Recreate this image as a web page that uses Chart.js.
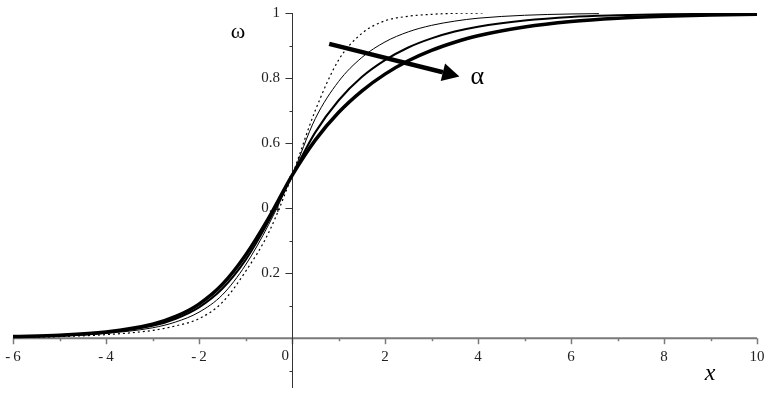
<!DOCTYPE html>
<html>
<head>
<meta charset="utf-8">
<script src="https://cdn.jsdelivr.net/npm/chart.js@4"></script>
<style>
  html, body { margin: 0; padding: 0; background: #fff; }
  #wrap { width: 770px; height: 395px; }
</style>
</head>
<body>
<div id="wrap"><canvas id="chart-omega" width="770" height="395"></canvas></div>
<script>
// curves, alpha growing from dotted to thick
const xDotted = [-6, -5, -4, -3, -2.5, -2, -1.5, -1, -0.5, 0, 0.5, 1, 1.5, 2, 2.5, 3, 3.5, 4.1];
const yDotted = [0.002, 0.005, 0.011, 0.024, 0.038, 0.06, 0.11, 0.205, 0.325, 0.5, 0.7, 0.855, 0.937, 0.976, 0.99, 0.996, 0.999, 1.0];

const xThin = [-6, -5, -4, -3, -2.5, -2, -1.5, -1, -0.5, 0, 0.5, 1, 1.5, 2, 2.5, 3, 3.5, 4, 5, 6, 6.6];
const yThin = [0.003, 0.007, 0.015, 0.032, 0.05, 0.08, 0.133, 0.225, 0.35, 0.5, 0.675, 0.789, 0.863, 0.911, 0.942, 0.962, 0.975, 0.984, 0.993, 0.997, 0.998];

const xMedium = [-6, -5, -4, -3, -2.5, -2, -1.5, -1, -0.5, 0, 0.5, 1, 1.5, 2, 2.5, 3, 3.5, 4, 5, 6, 7, 8, 9.6];
const yMedium = [0.004, 0.008, 0.017, 0.038, 0.06, 0.095, 0.152, 0.24, 0.36, 0.5, 0.633, 0.731, 0.803, 0.855, 0.894, 0.922, 0.943, 0.958, 0.977, 0.988, 0.993, 0.996, 0.998];

const xThick = [-6, -5, -4, -3, -2.5, -2, -1.5, -1, -0.5, 0, 0.5, 1, 1.5, 2, 2.5, 3, 3.5, 4, 5, 6, 7, 8, 9, 10];
const yThick = [0.005, 0.009, 0.019, 0.043, 0.067, 0.105, 0.165, 0.255, 0.37, 0.5, 0.609, 0.694, 0.76, 0.812, 0.853, 0.885, 0.91, 0.93, 0.957, 0.974, 0.984, 0.99, 0.994, 0.996];

// axis ticks
const xLabelValues = [-6, -4, -2, 0, 2, 4, 6, 8, 10];
const xTickLabels = ["-\u20096", "-\u20094", "-\u20092", "0", "2", "4", "6", "8", "10"];
const xMinorValues = [-5, -3, -1, 1, 3, 5, 7, 9];
const yLabelValues = [0.2, 0.4, 0.6, 0.8, 1];
const yTickLabels = ["0.2", "0.4", "0.6", "0.8", "1"];
const yMinorValues = [-0.1, 0.1, 0.3, 0.5, 0.7, 0.9];

// arrow for alpha, in data units
const arrowFrom = [0.8, 0.905];
const arrowTo = [3.6, 0.805];

const serif = '"Liberation Serif", "DejaVu Serif", serif';

function pts(xs, ys) {
  return xs.map((v, i) => ({ x: v, y: ys[i] }));
}

function line(ctx, x1, y1, x2, y2) {
  ctx.beginPath();
  ctx.moveTo(x1, y1);
  ctx.lineTo(x2, y2);
  ctx.stroke();
}

const axesPlugin = {
  id: "axes",
  beforeDatasetsDraw(chart) {
    const { ctx, scales: { x, y } } = chart;
    const x0 = x.getPixelForValue(0);
    const y0 = y.getPixelForValue(0);
    ctx.save();

    // x axis
    ctx.strokeStyle = "#7a7a7a";
    ctx.lineWidth = 2;
    line(ctx, x.getPixelForValue(-6), y0, x.getPixelForValue(10), y0);
    ctx.lineWidth = 1.5;
    xLabelValues.forEach(v => {
      const px = Math.round(x.getPixelForValue(v)) + 0.5;
      line(ctx, px, y0, px, y0 + 6);
    });
    xMinorValues.forEach(v => {
      const px = Math.round(x.getPixelForValue(v)) + 0.5;
      line(ctx, px, y0, px, y0 + 3);
    });

    // y axis
    ctx.strokeStyle = "#333";
    ctx.lineWidth = 1;
    const xa = Math.round(x0) + 0.5;
    line(ctx, xa, y.getPixelForValue(1), xa, y.bottom + 1);
    yLabelValues.forEach(v => {
      const py = Math.round(y.getPixelForValue(v)) + 0.5;
      line(ctx, xa, py, xa - 7, py);
    });
    yMinorValues.forEach(v => {
      const py = Math.round(y.getPixelForValue(v)) + 0.5;
      line(ctx, xa, py, xa - 3, py);
    });

    // tick labels
    ctx.fillStyle = "#222";
    ctx.font = "15px " + serif;
    ctx.textBaseline = "middle";
    xLabelValues.forEach((v, i) => {
      if (v === 0) {
        ctx.textAlign = "right";
        ctx.fillText(xTickLabels[i], x0 - 3, y0 + 18);
      } else {
        ctx.textAlign = "center";
        ctx.fillText(xTickLabels[i], x.getPixelForValue(v), y0 + 19);
      }
    });
    ctx.textAlign = "right";
    yLabelValues.forEach((v, i) => {
      ctx.fillText(yTickLabels[i], x0 - 12, y.getPixelForValue(v));
    });
    ctx.restore();
  },
  afterDatasetsDraw(chart) {
    const { ctx, scales: { x, y } } = chart;
    ctx.save();
    // arrow
    const ax1 = x.getPixelForValue(arrowFrom[0]), ay1 = y.getPixelForValue(arrowFrom[1]);
    const ax2 = x.getPixelForValue(arrowTo[0]), ay2 = y.getPixelForValue(arrowTo[1]);
    const ang = Math.atan2(ay2 - ay1, ax2 - ax1);
    const head = 17, half = 9;
    const bx = ax2 - head * Math.cos(ang), by = ay2 - head * Math.sin(ang);
    ctx.strokeStyle = "#000";
    ctx.fillStyle = "#000";
    ctx.lineWidth = 4.5;
    line(ctx, ax1, ay1, bx, by);
    ctx.beginPath();
    ctx.moveTo(ax2, ay2);
    ctx.lineTo(bx - half * Math.sin(ang), by + half * Math.cos(ang));
    ctx.lineTo(bx + half * Math.sin(ang), by - half * Math.cos(ang));
    ctx.closePath();
    ctx.fill();

    // symbols
    ctx.textAlign = "center";
    ctx.textBaseline = "middle";
    ctx.font = "26px " + serif;
    ctx.fillText("\u03b1", ax2 + 18, ay2 + 1);
    ctx.font = "22px " + serif;
    ctx.fillText("\u03c9", 238, 32);
    ctx.font = "italic 24px " + serif;
    ctx.fillText("x", 710, 374);
    ctx.restore();
  }
};

function curve(data, width, dash) {
  return {
    data: data,
    borderColor: "#000",
    borderWidth: width,
    borderDash: dash || [],
    pointRadius: 0,
    fill: false,
    cubicInterpolationMode: "monotone"
  };
}

let ctxOmega = document.getElementById("chart-omega");

ctxOmega && new Chart(ctxOmega.getContext("2d"), {
  type: "line",
  data: {
    datasets: [
      curve(pts(xDotted, yDotted), 1.2, [2, 3]),
      curve(pts(xThin, yThin), 1),
      curve(pts(xMedium, yMedium), 2),
      curve(pts(xThick, yThick), 3.5)
    ]
  },
  options: {
    responsive: false,
    animation: false,
    layout: { padding: { left: 13, right: 13, top: 13, bottom: 8 } },
    plugins: { legend: { display: false }, tooltip: { enabled: false } },
    scales: {
      x: { type: "linear", min: -6, max: 10, display: false },
      y: { type: "linear", min: -0.15, max: 1, display: false }
    }
  },
  plugins: [axesPlugin]
});
</script>
</body>
</html>
